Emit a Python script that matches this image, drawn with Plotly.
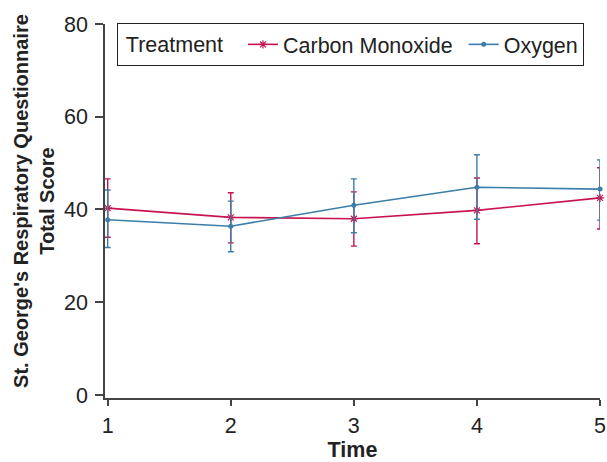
import plotly.graph_objects as go

time = [1, 2, 3, 4, 5]
co_mean = [40.3, 38.3, 38.0, 39.8, 42.5]
co_upper = [46.6, 43.6, 43.8, 46.8, 49.0]
co_lower = [34.0, 32.8, 32.1, 32.6, 35.8]
o2_mean = [37.8, 36.4, 40.9, 44.8, 44.4]
o2_upper = [44.2, 41.8, 46.6, 51.8, 50.7]
o2_lower = [31.8, 30.9, 35.0, 37.9, 37.7]
y_ticks = [0, 20, 40, 60, 80]

CO_COLOR = "#c8144e"
O2_COLOR = "#3b7ea9"
FONT = "Liberation Sans, Arial, sans-serif"
FS = 21.5
NB = "\u00a0"


def err(mean, up, lo):
    return dict(
        type="data", symmetric=False,
        array=[u - m for u, m in zip(up, mean)],
        arrayminus=[m - l for m, l in zip(mean, lo)],
        thickness=1.4, width=3,
    )


fig = go.Figure()
fig.add_trace(go.Scatter(
    x=time, y=co_mean, name="Carbon Monoxide" + NB, mode="lines+markers",
    line=dict(color=CO_COLOR, width=1.6),
    marker=dict(symbol="asterisk-open", size=7, color=CO_COLOR,
                line=dict(color=CO_COLOR, width=1.2)),
    error_y=dict(err(co_mean, co_upper, co_lower), color=CO_COLOR),
    cliponaxis=False,
))
fig.add_trace(go.Scatter(
    x=time, y=o2_mean, name="Oxygen", mode="lines+markers",
    line=dict(color=O2_COLOR, width=1.6),
    marker=dict(symbol="circle", size=5, color=O2_COLOR),
    error_y=dict(err(o2_mean, o2_upper, o2_lower), color=O2_COLOR),
    cliponaxis=False,
))

fig.update_layout(
    width=607, height=462,
    margin=dict(l=105, r=7, t=24, b=64, autoexpand=False),
    paper_bgcolor="white", plot_bgcolor="white",
    font=dict(family=FONT, size=FS, color="#222"),
    showlegend=True,
    legend=dict(
        orientation="h", x=0.024, y=1.003, xanchor="left", yanchor="top",
        bordercolor="#222", borderwidth=1, bgcolor="white",
        title=dict(text=NB + "Treatment" + NB * 2, font=dict(size=FS)),
        font=dict(size=FS), itemwidth=30,
    ),
    xaxis=dict(
        range=[0.978, 5], tickvals=time, ticktext=[str(t) for t in time],
        showgrid=False, zeroline=False, showline=True, linecolor="#444",
        linewidth=1.5, ticks="outside", ticklen=6, tickcolor="#444",
        tickwidth=1.5, ticklabelstandoff=1, automargin=False,
        title=dict(text="<b>Time</b>", standoff=19, font=dict(size=FS)),
    ),
    yaxis=dict(
        range=[-0.65, 80], tickvals=y_ticks,
        showgrid=False, zeroline=False, showline=True, linecolor="#444",
        linewidth=1.5, ticks="outside", ticklen=8, tickcolor="#444",
        tickwidth=1.5, ticklabelstandoff=3, automargin=False,
    ),
    annotations=[dict(
        text="<b>St. George's Respiratory Questionnaire<br>Total Score</b>",
        xref="paper", yref="paper", x=-0.1434, y=0.527,
        xanchor="center", yanchor="middle", textangle=-90, showarrow=False,
        font=dict(size=20, family=FONT, color="#222"),
    )],
)

# remove the page's default 8px body margin so the figure fills the window
fig.write_html("out.html", config={"displayModeBar": False},
               post_script="document.body.style.margin='0';")
